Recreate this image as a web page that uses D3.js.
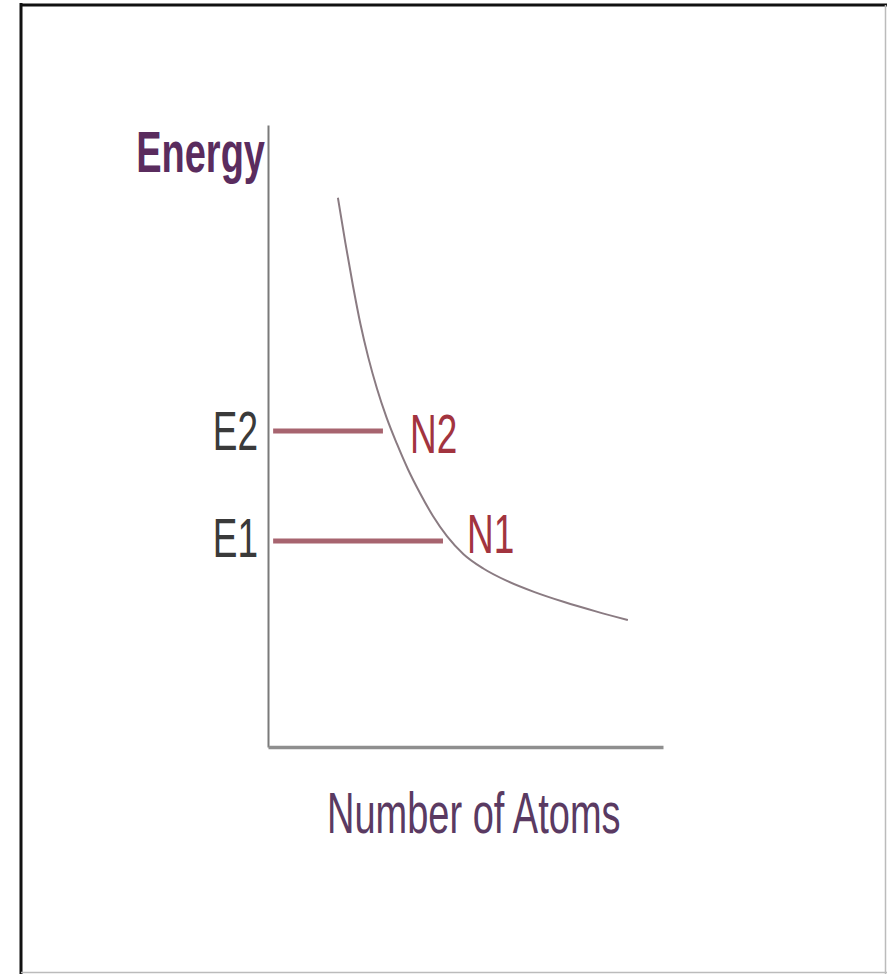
<!DOCTYPE html>
<html><head><meta charset="utf-8">
<script src="https://cdn.jsdelivr.net/npm/d3@7"></script>
<style>body{margin:0;background:#fff}svg{display:block}text{font-family:"Liberation Sans",Arial,sans-serif}</style>
</head><body>
<script>
// Data (in chart units: x 0-100, y 0-100)
const curveX = [17.7, 19.6, 21.5, 23.4, 25.4, 27.6, 30.0, 32.6, 35.4, 38.5, 41.8, 45.3, 49.5, 54.5, 60.5, 67.5, 75.0, 83.0, 91.1];
const curveY = [88.3, 81.0, 74.2, 68.0, 62.6, 57.6, 53.0, 48.8, 44.7, 40.8, 37.1, 33.9, 31.0, 28.7, 26.7, 24.9, 23.3, 21.8, 20.4];
const levelNames = ["E2", "E1"];
const levelValues = [50.8, 33.1];
const levelEndX = [29.1, 44.3];
const pointNames = ["N2", "N1"];
const axisTitles = ["Energy", "Number of Atoms"];

const W = 889, H = 974;
const svg = d3.select("body").append("svg").attr("width", W).attr("height", H);

// frame
svg.append("line").attr("x1",21).attr("x2",21).attr("y1",3).attr("y2",974).attr("stroke","#111").attr("stroke-width",3);
svg.append("line").attr("x1",20).attr("x2",887).attr("y1",5).attr("y2",5).attr("stroke","#111").attr("stroke-width",3);
svg.append("line").attr("x1",885.5).attr("x2",885.5).attr("y1",5).attr("y2",974).attr("stroke","#bbb").attr("stroke-width",1.5);
svg.append("line").attr("x1",21).attr("x2",887).attr("y1",972.5).attr("y2",972.5).attr("stroke","#bbb").attr("stroke-width",1.5);

const x = d3.scaleLinear().domain([0,100]).range([268,663]);
const y = d3.scaleLinear().domain([0,100]).range([747,125]);

// axes (plain lines, no ticks)
const yAxis = d3.axisLeft(y).tickValues([]).tickSizeOuter(0);
const xAxis = d3.axisBottom(x).tickValues([]).tickSizeOuter(0);
const gy = svg.append("g").attr("transform",`translate(${x(0)},0)`).call(yAxis);
gy.select(".domain").attr("stroke","#7a7a7a").attr("stroke-width",2);
const gx = svg.append("g").attr("transform",`translate(0,${y(0)})`).call(xAxis);
gx.select(".domain").attr("stroke","#8f8f8f").attr("stroke-width",3.5);

// level lines
levelValues.forEach((v,i)=>{
  svg.append("line").attr("x1",x(1.3)).attr("x2",x(levelEndX[i]))
    .attr("y1",y(v)).attr("y2",y(v))
    .attr("stroke","#a7646f").attr("stroke-width",5);
});

// curve
const pts = curveX.map((d,i)=>[d,curveY[i]]);
svg.append("path").datum(pts)
  .attr("d", d3.line().x(d=>x(d[0])).y(d=>y(d[1])).curve(d3.curveMonotoneX))
  .attr("fill","none").attr("stroke","#8a7b82").attr("stroke-width",2);

function label(txt, px, py, anchor, size, color, weight){
  svg.append("text").text(txt)
    .attr("transform",`translate(${px},${py}) scale(1,1.5)`)
    .attr("text-anchor",anchor).attr("font-size",size)
    .attr("fill",color).attr("font-weight",weight||"normal");
}

// level labels
levelNames.forEach((n,i)=>{
  label(n, x(0)-10, y(levelValues[i])+(i===0?19:16), "end", 37, "#3a3a3a");
});
// point labels
pointNames.forEach((n,i)=>{
  label(n, x(levelEndX[i])+(i===0?27:24), y(levelValues[i])+(i===0?22:12), "start", 37, "#a2343f");
});

// axis titles
label(axisTitles[0], x(0)-3, 172, "end", 38, "#5a2c5e", "bold");
label(axisTitles[1], 327, 833, "start", 38, "#5a3a62");
</script>
</body></html>
